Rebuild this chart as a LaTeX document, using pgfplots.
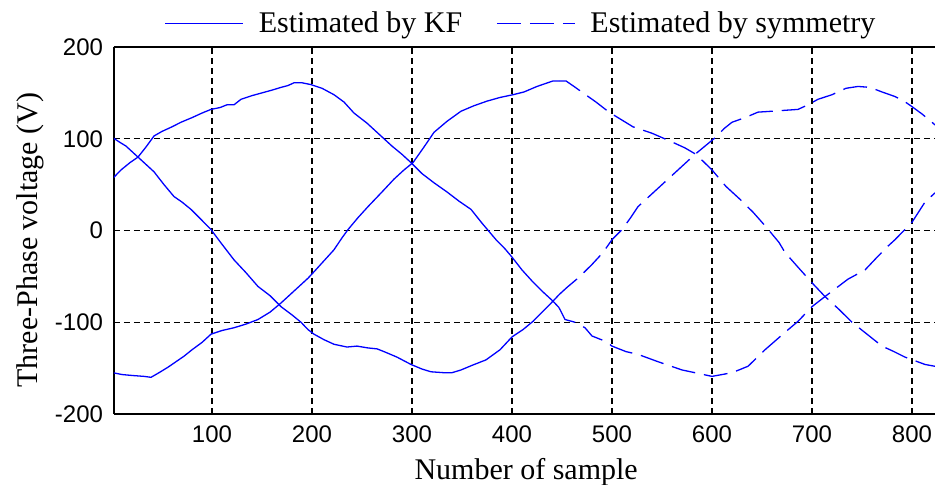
\documentclass[border=0pt]{standalone}
\usepackage{fontspec}
\setmainfont{Liberation Serif}
\newfontfamily\ticksans{Liberation Sans}
\usepackage{pgfplots}
\pgfplotsset{compat=1.18}

\definecolor{phase}{RGB}{0,0,255}

\begin{document}
\begin{tikzpicture}
\begin{axis}[
  name=ax,
  scale only axis,
  width=410.5bp, height=183.5bp,
  xmin=2, xmax=823,
  ymin=-200, ymax=200,
  xtick={100,200,...,800},
  ytick={-200,-100,0,100,200},
  axis x line*=box,
  axis y line*=left,
  axis line style={black, line width=0.7bp},
  tick align=inside,
  major tick length=3bp,
  tick style={black, line width=0.6bp},
  grid=major,
  major grid style={black, line width=0.55bp, dash pattern=on 3bp off 2bp},
  /pgf/number format/assume math mode=true,
  /pgf/number format/1000 sep={},
  ticklabel style={font=\ticksans\fontsize{12bp}{14bp}\selectfont},
  xticklabel style={yshift=-2.5bp},
  yticklabel style={xshift=-2bp},
  xlabel={Number of sample},
  ylabel={Three-Phase voltage (V)},
  label style={font=\fontsize{15bp}{18bp}\selectfont},
  xlabel style={at={(rel axis cs:0.502,-0.1798)}, anchor=base},
  ylabel style={at={(rel axis cs:-0.1023,0.474)}, anchor=center, rotate=0},
  legend style={at={(rel axis cs:0.497,1.02)}, anchor=south, draw=none, fill=none,
    font=\fontsize{15bp}{18bp}\selectfont, inner sep=0pt,
    /tikz/every odd column/.append style={column sep=5.5bp},
    /tikz/every even column/.append style={column sep=15bp}},
  legend columns=2,
  legend image code/.code={\draw[#1] (0bp,0bp) -- (39bp,0bp);},
  every axis plot/.append style={phase, line width=0.65bp},
]

% Kalman-filter estimates (first part of the record)
\addplot[forget plot] coordinates {
(1,57) (9,66) (18,74) (26,80) (34,91) (42,103) (50,108) (60,113) (69,118)
(80,123) (90,128) (99,132) (108,134) (115,137) (122,137) (129,143) (140,147)
(150,150) (160,153) (169,156) (176,158) (182,161) (190,161) (199,159)
(210,155) (222,148) (232,140) (242,128) (255,117) (269,103) (280,92) (290,83)
(299,74) (310,62) (322,52) (335,42) (347,32) (359,23) (370,8) (384,-10)
(393,-20) (400,-29) (410,-43) (420,-55) (430,-66) (441,-77) (447,-84)
};
\addplot[forget plot] coordinates {
(1,101) (8,96) (14,92) (20,86) (26,80) (34,72) (42,64) (52,50) (62,37)
(70,31) (79,23) (90,11) (99,1) (110,-15) (122,-32) (134,-46) (146,-61)
(158,-71) (169,-83) (180,-92) (189,-100) (196,-108) (202,-113) (212,-119)
(222,-124) (235,-127) (245,-126) (256,-128) (265,-129) (272,-132) (285,-138)
(299,-146) (310,-151) (319,-154) (332,-155) (340,-155) (349,-152) (360,-147)
(374,-141) (388,-130) (400,-116) (411,-108) (421,-99) (431,-88) (441,-77)
(447,-70)
};
\addplot[forget plot] coordinates {
(1,-155) (10,-157) (20,-158) (32,-159) (39,-160) (47,-155) (56,-149)
(64,-143) (72,-137) (80,-130) (90,-122) (99,-113) (110,-109) (122,-106)
(134,-102) (146,-97) (158,-89) (169,-79) (180,-68) (189,-59) (196,-52)
(202,-45) (212,-33) (222,-21) (230,-8) (236,1) (246,14) (256,26) (270,42)
(282,56) (292,66) (301,74) (312,91) (322,107) (335,119) (349,130) (362,136)
(375,141) (388,145) (401,148) (412,151) (425,157) (441,163) (447,163)
};

% Estimates obtained by symmetry (remaining samples)
\addplot[forget plot, dash pattern=on 12bp off 4.5bp] coordinates {
(447,-84) (453,-97) (463,-100) (473,-106) (480,-115) (494,-121) (500,-126)
(514,-132) (526,-135) (546,-143) (570,-152) (583,-155) (600,-159) (620,-155)
(636,-148) (653,-130) (673,-111) (686,-99) (700,-83) (713,-72) (736,-53)
(753,-43) (766,-28) (776,-17) (783,-10) (800,9) (813,31) (823,41)
};
\addplot[forget plot, dash pattern=on 12bp off 4.5bp] coordinates {
(447,-70) (455,-62) (467,-51) (480,-37) (491,-24) (500,-10) (510,1)
(518,13) (526,26) (540,40) (556,56) (570,70) (583,83) (593,92) (603,101)
(612,111) (620,118) (633,123) (646,129) (660,130) (673,131) (686,132)
(696,137) (706,143) (720,148) (734,155) (746,157) (758,156) (770,151)
(783,146) (792,141) (800,135) (810,127) (820,118) (823,115)
};
\addplot[forget plot, dash pattern=on 12bp off 4.5bp] coordinates {
(447,163) (454,163) (462,157) (471,150) (484,140) (497,129) (509,121)
(521,113) (540,106) (561,96) (573,90) (584,83) (600,66) (614,48) (628,34)
(641,20) (654,4) (667,-13) (673,-24) (686,-40) (700,-57) (713,-72)
(727,-86) (740,-100) (755,-113) (770,-126) (782,-132) (793,-138)
(803,-142) (813,-146) (823,-148)
};

\addlegendimage{phase, line width=0.65bp}
\addlegendentry{Estimated by KF}
\addlegendimage{phase, line width=0.65bp, dash pattern=on 12bp off 4.5bp}
\addlegendentry{Estimated by symmetry}
\end{axis}
\pgfresetboundingbox
\path[use as bounding box] ([shift={(-57bp,-35.5bp)}]ax.south west)
  rectangle ([shift={(0bp,23.5bp)}]ax.north east);
\end{tikzpicture}
\end{document}
